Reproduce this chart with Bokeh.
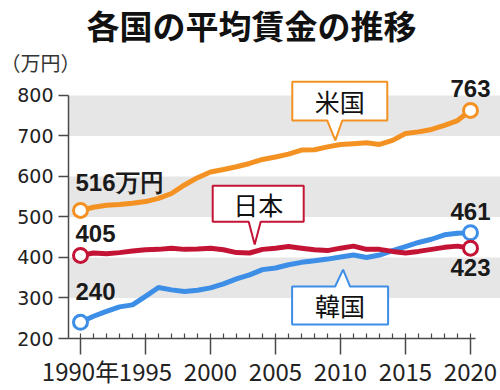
from bokeh.plotting import figure
from bokeh.layouts import column
from bokeh.models import Range1d, FixedTicker, BoxAnnotation, Label, PolyAnnotation
from bokeh.embed import file_html
from bokeh.resources import INLINE
import numpy as np

# ---- data ----
years = list(range(1990, 2021))
usa = [516, 524, 529, 531, 534, 538, 546, 558, 579, 597, 611, 617, 624, 632, 642,
       648, 655, 665, 666, 673, 679, 681, 683, 679, 689, 706, 710, 716, 726, 738, 763]
japan = [405, 411, 409, 412, 416, 419, 420, 423, 420, 421, 423, 419, 412, 411, 420,
         423, 427, 423, 419, 417, 423, 428, 420, 420, 415, 411, 415, 420, 425, 428, 423]
korea = [240, 255, 267, 278, 283, 304, 326, 320, 316, 319, 325, 335, 347, 357, 370,
         374, 382, 388, 392, 396, 401, 406, 400, 406, 417, 427, 437, 445, 456, 460, 461]
series_names = ["米国", "日本", "韓国"]
y_ticks = [200, 300, 400, 500, 600, 700, 800]
x_ticks = [1990, 1995, 2000, 2005, 2010, 2015, 2020]
band_low = [300, 500, 700]
band_high = [400, 600, 800]
title_text = "各国の平均賃金の推移"
unit_text = "（万円）"

# ---- style / layout ----
ORANGE = "#F39222"
RED = "#C41436"
BLUE = "#3C8EE6"
BAND = "#E6E6E6"
AXIS = "#4a4a4a"
CJK = "Noto Sans CJK JP"
NUM = "Liberation Sans"

W = 500
TOP_H = 76                 # header strip (title + unit)
H = 390 - TOP_H            # main chart
ML, MR, MT, MB = 68, 0, 0, 51
FW, FH = W - ML - MR, H - MT - MB
xpx = 13.0                 # pixels per year
ypx = 244 / 600            # pixels per 万円
x0 = 1990 - 12 / xpx
x1 = x0 + FW / xpx
y0 = 200
y1 = y0 + FH / ypx

# ---- header ----
top = figure(width=W, height=TOP_H, output_backend="svg", toolbar_location=None, title=None,
             x_range=Range1d(0, W), y_range=Range1d(TOP_H, 0),
             x_axis_type=None, y_axis_type=None,
             min_border_left=0, min_border_right=0, min_border_top=0, min_border_bottom=0)
top.frame_align = False
top.outline_line_color = None
top.grid.visible = False
top.add_layout(Label(x=251, y=24, text=title_text, text_align="center", text_baseline="middle",
                     text_font=CJK, text_font_size="33px", text_font_style="bold",
                     text_color="#111111"))
top.add_layout(Label(x=0, y=62, text=unit_text, text_align="left", text_baseline="middle",
                     text_font=CJK, text_font_size="20px", text_color="#333333"))

# ---- main chart ----
p = figure(width=W, height=H, output_backend="svg", toolbar_location=None, title=None,
           x_range=Range1d(x0, x1), y_range=Range1d(y0, y1),
           min_border_left=ML, min_border_right=MR, min_border_top=MT, min_border_bottom=MB)
p.frame_align = False
p.outline_line_color = None
p.grid.visible = False
p.background_fill_color = "white"

for lo, hi in zip(band_low, band_high):
    p.add_layout(BoxAnnotation(bottom=lo, top=hi, fill_color=BAND, fill_alpha=1,
                               line_color=None, level="underlay"))

xa = p.xaxis[0]
xa.ticker = FixedTicker(ticks=x_ticks, minor_ticks=years)
xa.bounds = (x0, 2020.4)
xa.major_label_overrides = {1990: "1990年"}
xa.major_tick_out = 16
xa.major_tick_in = 0
xa.minor_tick_in = 5
xa.minor_tick_out = 0
xa.major_label_standoff = -2
xa.major_label_text_font = CJK
xa.major_label_text_font_size = "24px"
xa.major_label_text_color = "#222222"
xa.minor_tick_line_color = AXIS
xa.minor_tick_line_width = 1.2

ya = p.yaxis[0]
ya.ticker = FixedTicker(ticks=y_ticks)
ya.bounds = (200, 800)
ya.major_tick_out = 10
ya.major_tick_in = 0
ya.minor_tick_line_color = None
ya.major_label_standoff = 5
ya.major_label_text_font = "DejaVu Sans"
ya.major_label_text_font_size = "19px"
ya.major_label_text_color = "#222222"

for ax in (xa, ya):
    ax.axis_line_color = AXIS
    ax.axis_line_width = 1.5
    ax.major_tick_line_color = AXIS
    ax.major_tick_line_width = 1.5

for vals, col in [(usa, ORANGE), (korea, BLUE), (japan, RED)]:
    p.line(years, vals, line_width=5, line_color=col, line_join="round", line_cap="round")
    p.scatter([years[0], years[-1]], [vals[0], vals[-1]], size=14, marker="circle",
              fill_color="white", line_color=col, line_width=3)

# end-point value labels (offsets in pixels, y up)
def val_label(x, y, text, dx, dy, align="left"):
    p.add_layout(Label(x=x, y=y, text=text, x_offset=dx, y_offset=dy,
                       text_align=align, text_baseline="middle",
                       text_font=NUM, text_font_size="24px", text_font_style="bold",
                       text_color="#1a1a1a"))

val_label(years[0], usa[0], f"{usa[0]}万円", -5, 28)
val_label(years[0], japan[0], f"{japan[0]}", -5, 22)
val_label(years[0], korea[0], f"{korea[0]}", -5, 31)
val_label(years[-1], usa[-1], f"{usa[-1]}", 0, 22, "center")
val_label(years[-1], korea[-1], f"{korea[-1]}", 0, 21, "center")
val_label(years[-1], japan[-1], f"{japan[-1]}", 0, -19, "center")

# callouts: box given in pixels relative to the pointer tip (screen y down)
def callout(text, vals, year, gap, L, R, T, B, pl, pr, col):
    ty = float(np.interp(year, years, vals))
    sx = year
    sy = ty + gap / ypx
    if B < 0:  # box above the tip
        pts = [(L, T), (R, T), (R, B), (pr, B), (0, 0), (pl, B), (L, B)]
    else:      # box below the tip
        pts = [(L, T), (pl, T), (0, 0), (pr, T), (R, T), (R, B), (L, B)]
    xs = [sx + dx / xpx for dx, dy in pts]
    ys = [sy - dy / ypx for dx, dy in pts]
    p.add_layout(PolyAnnotation(xs=xs, ys=ys, fill_color="white", fill_alpha=1,
                                line_color=col, line_alpha=1, line_width=2))
    cx = sx + (L + R) / 2 / xpx
    cy = sy - (T + B) / 2 / ypx
    p.add_layout(Label(x=cx, y=cy, text=text, text_align="center", text_baseline="middle",
                       text_font=CJK, text_font_size="25px", text_color="#111111"))

callout(series_names[0], usa, 2009.6, 5, -43, 52, -59, -20, -8, 7, ORANGE)
callout(series_names[1], japan, 2003.4, 7, -42, 49, -59, -23, -6, 6, RED)
callout(series_names[2], korea, 2010.2, -13, -51, 45, 17, 55, -8, 7, BLUE)

layout = column(top, p, spacing=0)
open("out.html", "w").write(file_html(layout, INLINE))
